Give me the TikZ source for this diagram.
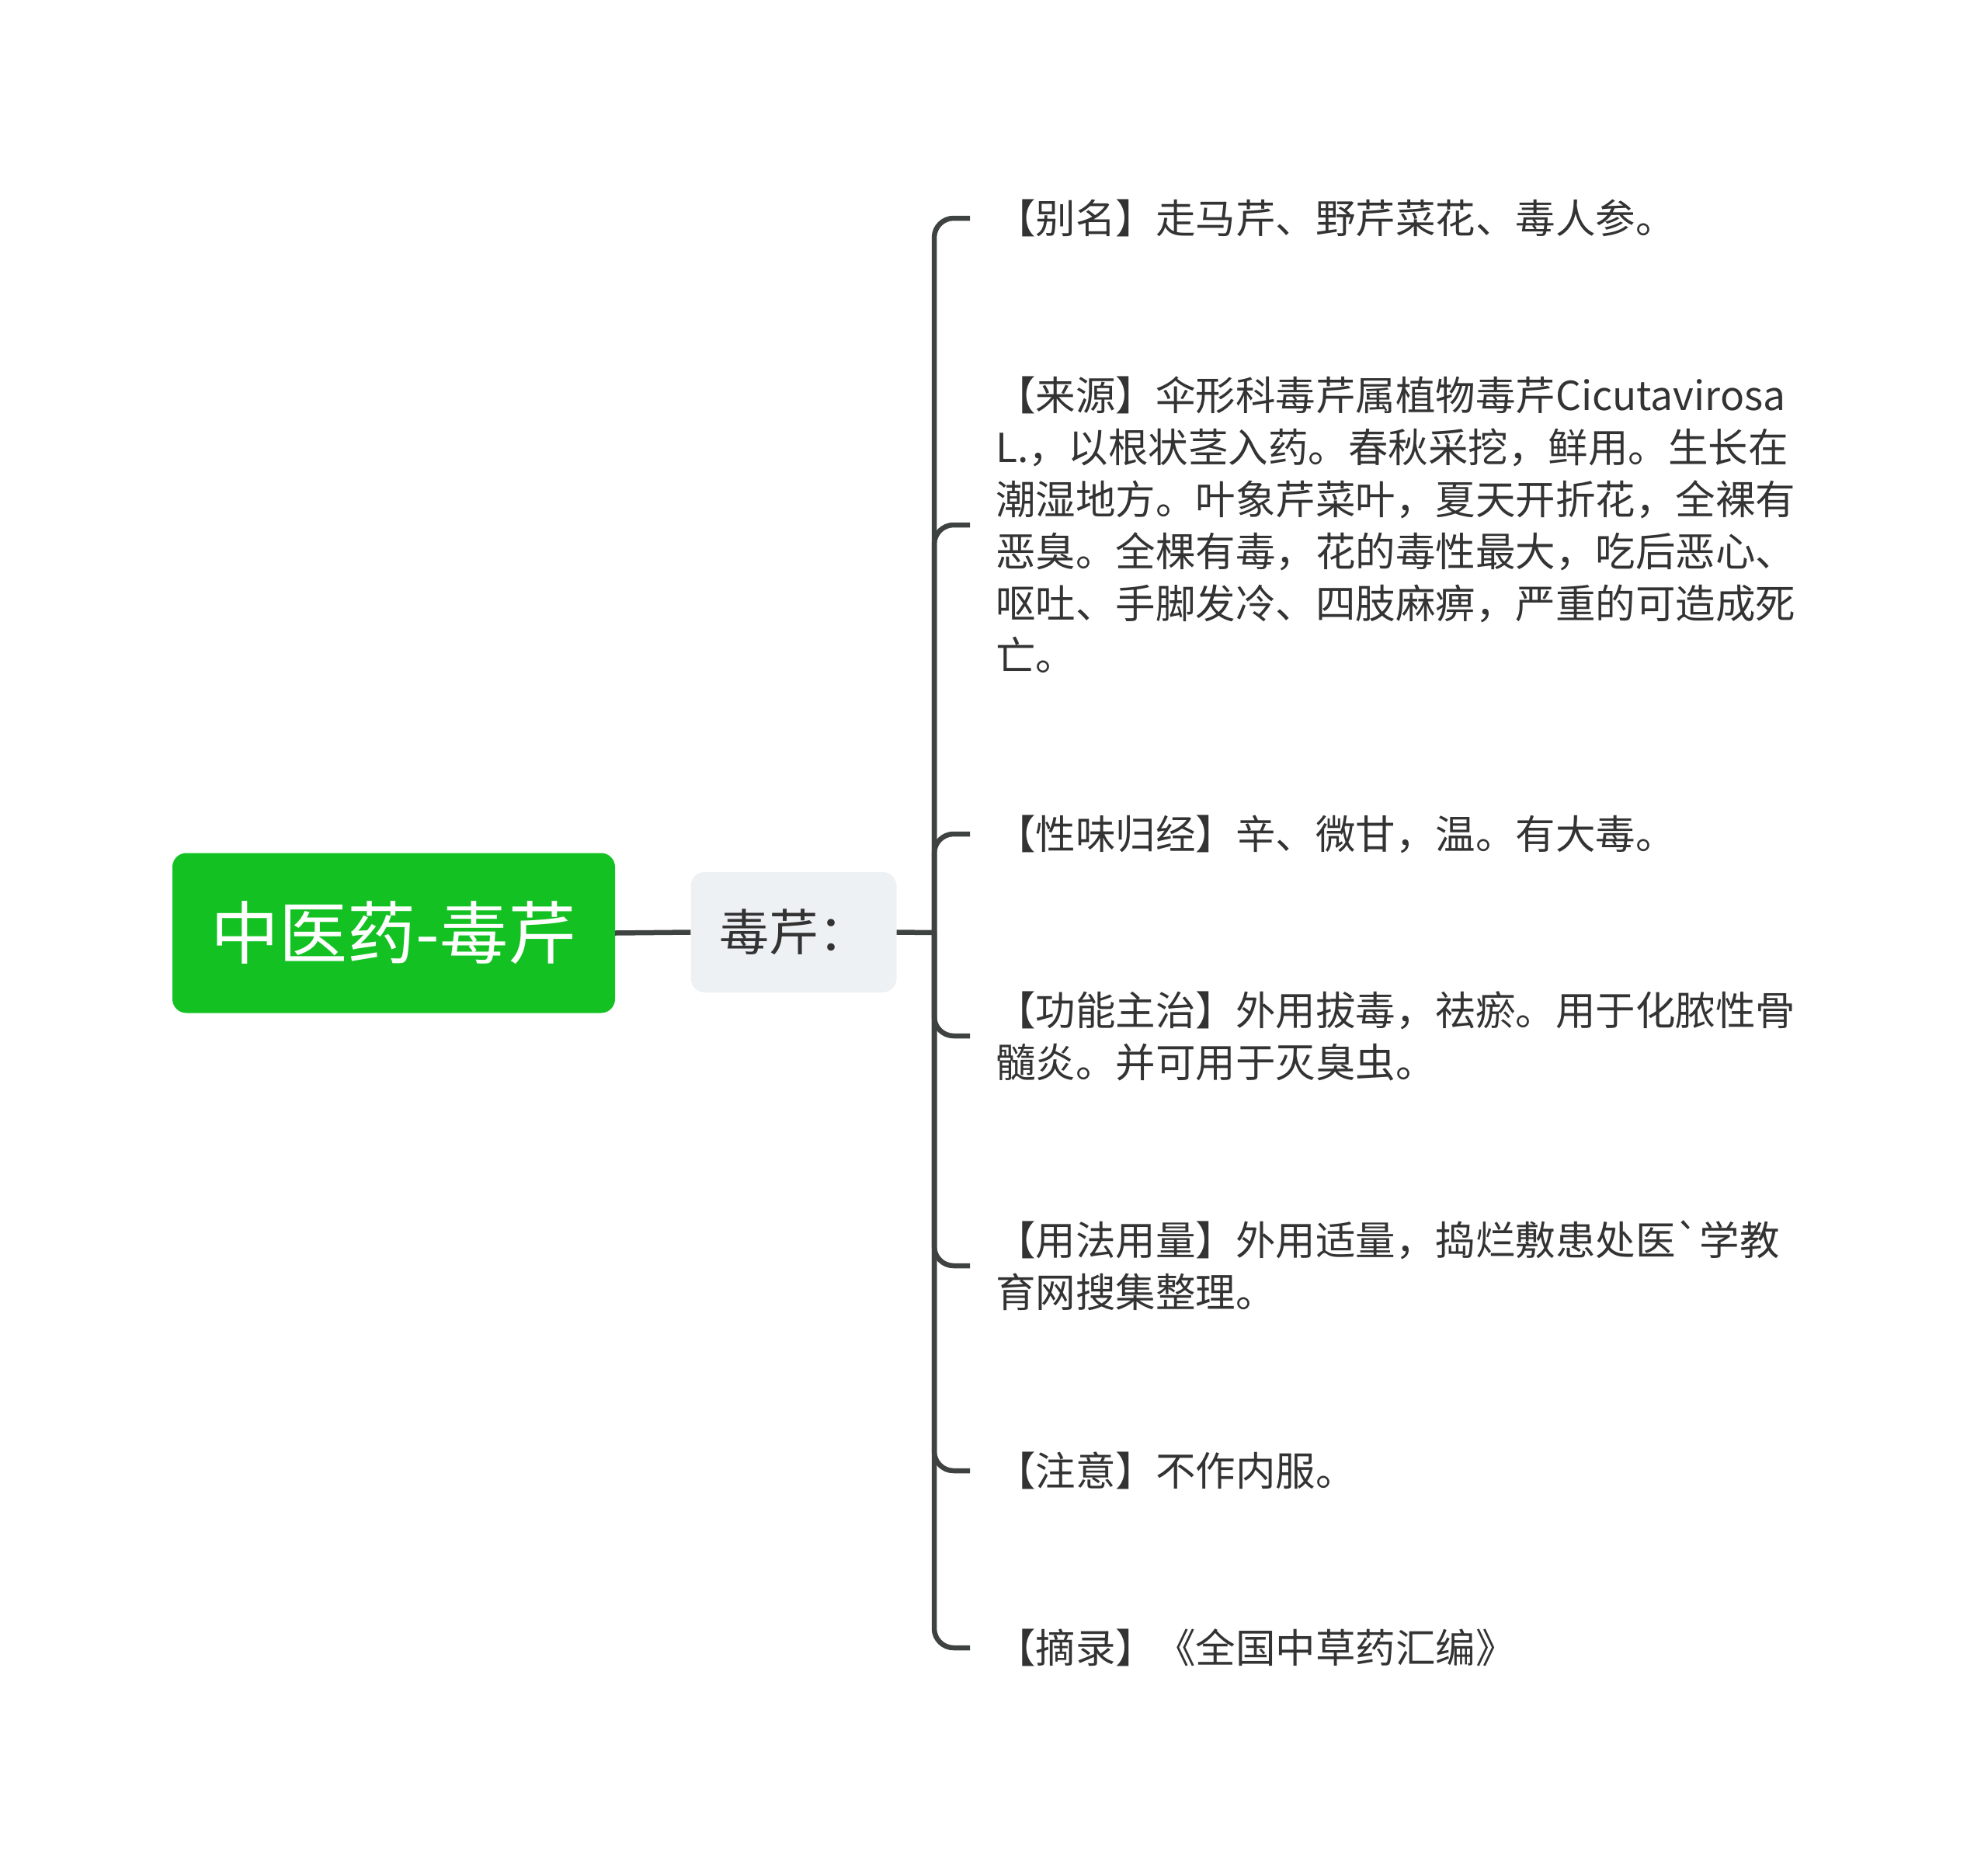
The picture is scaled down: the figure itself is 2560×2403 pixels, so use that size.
\documentclass[tikz,border=0pt]{standalone}
\usepackage{fontspec}
\newfontfamily\cjk{Noto Sans CJK SC}
\definecolor{rootgreen}{RGB}{19,194,34}
\definecolor{midfill}{RGB}{238,241,244}
\definecolor{linegrey}{RGB}{62,66,64}
\definecolor{txtgrey}{RGB}{51,51,51}
\tikzset{
  rootbox/.style={draw=none, fill=rootgreen, rounded corners=18pt, minimum width=570pt, minimum height=206pt, inner sep=0pt, text=white, font=\cjk\fontsize{88}{100}\selectfont},
  midbox/.style={draw=none, fill=midfill, rounded corners=18pt, minimum width=265pt, minimum height=155pt, inner sep=0pt, text=txtgrey, font=\cjk\fontsize{64}{72}\selectfont},
  leafbox/.style={anchor=west, inner xsep=33pt, inner ysep=0pt, align=left, text=txtgrey, font=\cjk\fontsize{51.5}{67}\selectfont},
  conn/.style={draw=linegrey, line width=6.5pt},
  branch/.style={conn, rounded corners=25pt},
}
\begin{document}
\begin{tikzpicture}[x=1pt,y=-1pt]
\useasboundingbox[fill=white] (0,0) rectangle (2560,2403);
\node[rootbox] (root) at (507,1201.5) {中医药-毒芹};
\node[midbox] (mid) at (1022,1200.5) {毒芹：};
\coordinate (j) at (1203,1201);
\node[leafbox] (l1) at (1249,281) {【别名】走马芹、野芹菜花、毒人参。};
\node[leafbox] (l2) at (1249,676) {【来源】伞形科毒芹属植物毒芹Cicutavirosa\\L.，以根状茎入药。春秋采挖，鲜用。生长在\\潮湿地方。叶象芹菜叶，夏天开折花，全裸有\\恶臭。全棵有毒，花的毒性最大，吃后恶心、\\呕吐、手脚发冷、四肢麻痹，严重的可造成死\\亡。};
\node[leafbox] (l3) at (1249,1074) {【性味归经】辛、微甘，温。有大毒。};
\node[leafbox] (l4) at (1249,1334) {【功能主治】外用拔毒，祛瘀。用于化脓性骨\\髓炎。并可用于灭臭虫。};
\node[leafbox] (l5) at (1249,1630) {【用法用量】外用适量，捣烂敷患处医`学教\\育网搜集整理。};
\node[leafbox] (l6) at (1249,1894) {【注意】不作内服。};
\node[leafbox] (l7) at (1249,2122) {【摘录】《全国中草药汇编》};
\draw[conn] (root.east) -- (mid.west);
\draw[conn] (mid.east) -- (j);
\foreach \n in {l1,l2,l3,l4,l5,l6,l7} {
  \draw[branch] (j) |- (\n.west);
}
\end{tikzpicture}
\end{document}
